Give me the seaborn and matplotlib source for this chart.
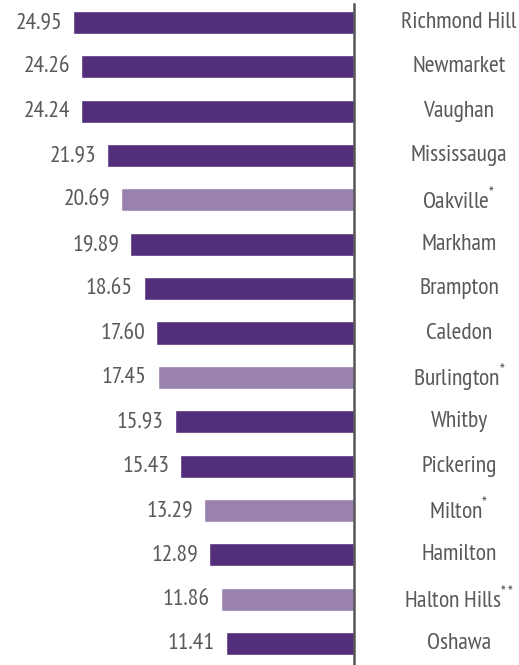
import matplotlib
matplotlib.use("Agg")
import matplotlib.pyplot as plt
import matplotlib.transforms as mtransforms
import pandas as pd
import seaborn as sns

# Municipalities, their values and footnote marks
cities = ["Richmond Hill", "Newmarket", "Vaughan", "Mississauga", "Oakville",
          "Markham", "Brampton", "Caledon", "Burlington", "Whitby",
          "Pickering", "Milton", "Hamilton", "Halton Hills", "Oshawa"]
values = [24.95, 24.26, 24.24, 21.93, 20.69, 19.89, 18.65, 17.60, 17.45,
          15.93, 15.43, 13.29, 12.89, 11.86, 11.41]
notes = ["", "", "", "", "*", "", "", "", "*", "", "", "*", "", "**", ""]
groups = ["Halton" if n else "Other" for n in notes]

DARK = "#532E7A"
LIGHT = "#9A82AE"
TEXT = "#595959"
FONT = "PT Sans Narrow"

sns.set_theme(style="white")
plt.rcParams["font.family"] = [FONT, "DejaVu Sans"]
plt.rcParams["mathtext.fontset"] = "custom"
plt.rcParams["mathtext.rm"] = FONT
plt.rcParams["mathtext.it"] = FONT

df = pd.DataFrame({"city": cities, "value": values, "group": groups})

W, H = 519, 665
fig = plt.figure(figsize=(W / 100, H / 100), dpi=100)
axis_x = 354
top_px = 4
ax = fig.add_axes([0, 0, axis_x / W, (H - top_px) / H])

sns.barplot(data=df, y="city", x="value", hue="group", order=cities,
            palette={"Other": DARK, "Halton": LIGHT}, orient="h",
            width=0.52, dodge=False, legend=False, saturation=1, ax=ax)

px_per_unit = 11.25
ax.set_xlim(axis_x / px_per_unit, 0)
row_px = 44.36
ax.set_ylim(14 + 21.5 / row_px, -18.5 / row_px)

for side in ["top", "bottom", "left"]:
    ax.spines[side].set_visible(False)
ax.spines["right"].set_linewidth(1.8)
ax.spines["right"].set_color("#555555")
ax.set_xticks([])
ax.set_yticks([])
ax.set_xlabel("")
ax.set_ylabel("")

FS = 17

# value labels at the bar ends
for i, v in enumerate(values):
    ax.annotate(f"{v:.2f}", (v, i), xytext=(-8, 0), textcoords="offset points",
                ha="right", va="center", fontsize=FS, color=TEXT)

# municipality names to the right of the axis line
trans = mtransforms.blended_transform_factory(ax.transAxes, ax.transData)
name_x = 459 / axis_x
for i, (c, n) in enumerate(zip(cities, notes)):
    label = c + (r"$^{%s}$" % n if n else "")
    ax.text(name_x, i, label, transform=trans, ha="center", va="center",
            fontsize=FS, color=TEXT, clip_on=False)

fig.savefig("out.png", dpi=100)
